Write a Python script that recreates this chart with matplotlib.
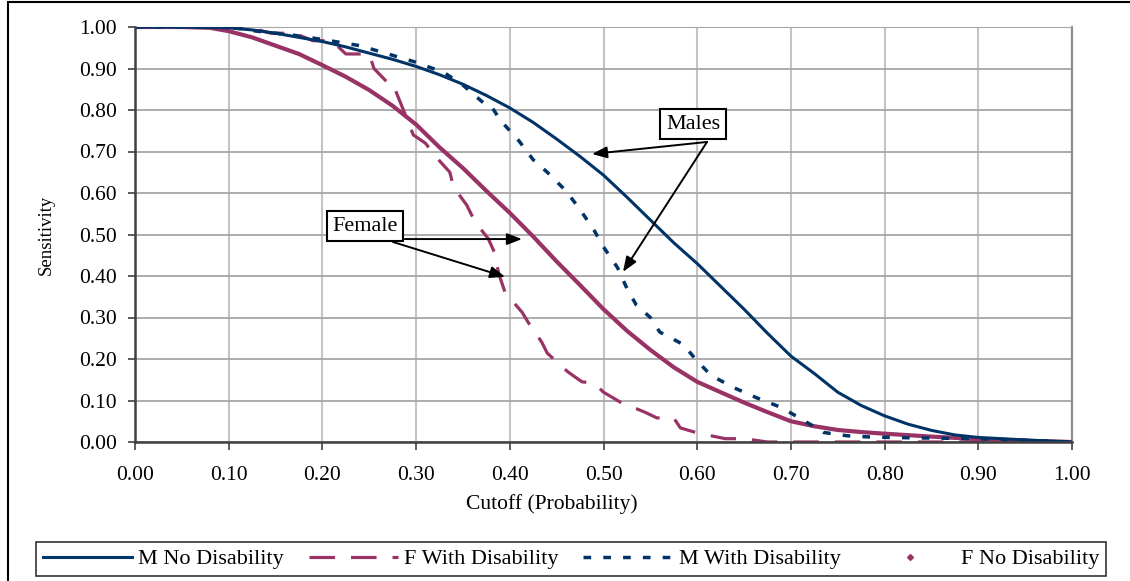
import matplotlib
matplotlib.use("Agg")
import matplotlib.pyplot as plt
from matplotlib.lines import Line2D
from matplotlib.patches import Rectangle

plt.rcParams['font.family'] = ['Liberation Serif', 'DejaVu Serif']

NAVY = '#003366'
PLUM = '#993366'

# M No Disability (solid)
m_no_x = [0.00, 0.05, 0.10, 0.125, 0.15, 0.175, 0.20, 0.225, 0.25, 0.275, 0.30, 0.325,
          0.35, 0.375, 0.40, 0.425, 0.45, 0.475, 0.50, 0.525, 0.55, 0.575, 0.60, 0.625,
          0.65, 0.675, 0.70, 0.725, 0.75, 0.775, 0.80, 0.825, 0.85, 0.875, 0.90, 0.95, 1.00]
m_no_y = [1.00, 1.00, 0.998, 0.993, 0.985, 0.975, 0.965, 0.952, 0.937, 0.922, 0.905, 0.885,
          0.862, 0.835, 0.805, 0.77, 0.73, 0.688, 0.643, 0.59, 0.535, 0.48, 0.43, 0.375,
          0.32, 0.262, 0.207, 0.165, 0.12, 0.088, 0.063, 0.043, 0.028, 0.017, 0.011, 0.005, 0.0]

# F With Disability (long dashes, stepped)
f_with_x = [0.00, 0.12, 0.145, 0.17, 0.19, 0.21, 0.225, 0.25, 0.255, 0.27, 0.275, 0.28,
            0.29, 0.297, 0.31, 0.32, 0.336, 0.34, 0.354, 0.363, 0.377, 0.384, 0.388, 0.395,
            0.413, 0.42, 0.434, 0.44, 0.462, 0.477, 0.49, 0.50, 0.518, 0.544, 0.557, 0.575,
            0.582, 0.60, 0.63, 0.65, 0.675, 1.00]
f_with_y = [1.00, 1.00, 0.985, 0.985, 0.967, 0.967, 0.935, 0.935, 0.90, 0.865, 0.865, 0.836,
            0.78, 0.74, 0.72, 0.69, 0.65, 0.614, 0.571, 0.53, 0.49, 0.455, 0.407, 0.36,
            0.313, 0.287, 0.241, 0.214, 0.169, 0.145, 0.142, 0.12, 0.096, 0.072, 0.058, 0.058,
            0.034, 0.022, 0.008, 0.008, 0.0, 0.0]

# M With Disability (short dashes)
m_with_x = [0.00, 0.05, 0.10, 0.13, 0.17, 0.20, 0.24, 0.27, 0.30, 0.33, 0.35, 0.372,
            0.38, 0.39, 0.41, 0.425, 0.44, 0.46, 0.475, 0.49, 0.50, 0.515, 0.525, 0.535,
            0.55, 0.56, 0.585, 0.60, 0.615, 0.64, 0.665, 0.69, 0.715, 0.735, 0.76, 0.785,
            0.83, 0.90, 0.95, 1.00]
m_with_y = [1.00, 1.00, 1.00, 0.99, 0.98, 0.97, 0.955, 0.935, 0.915, 0.89, 0.86, 0.817,
            0.81, 0.775, 0.725, 0.68, 0.65, 0.605, 0.56, 0.51, 0.47, 0.42, 0.37, 0.33,
            0.30, 0.265, 0.235, 0.195, 0.16, 0.13, 0.105, 0.083, 0.05, 0.023, 0.015, 0.012,
            0.01, 0.008, 0.004, 0.0]

# F No Disability (dense points)
f_no_x = [0.00, 0.05, 0.08, 0.10, 0.125, 0.15, 0.175, 0.20, 0.225, 0.25, 0.275, 0.30,
          0.325, 0.35, 0.375, 0.40, 0.425, 0.45, 0.475, 0.50, 0.525, 0.55, 0.575, 0.60,
          0.625, 0.65, 0.675, 0.70, 0.725, 0.75, 0.775, 0.80, 0.85, 0.90, 0.95, 1.00]
f_no_y = [1.00, 1.00, 0.998, 0.99, 0.975, 0.955, 0.935, 0.908, 0.88, 0.848, 0.81, 0.765,
          0.71, 0.66, 0.605, 0.552, 0.495, 0.435, 0.378, 0.32, 0.268, 0.222, 0.18, 0.145,
          0.12, 0.095, 0.072, 0.05, 0.038, 0.029, 0.024, 0.02, 0.013, 0.007, 0.003, 0.0]

labels = ['M No Disability', 'F With Disability', 'M With Disability', 'F No Disability']
ticks = [i / 10 for i in range(11)]

fig = plt.figure(figsize=(11.3, 5.81), dpi=100)
ax = fig.add_axes([135 / 1130, 1 - 442 / 581, (1072 - 135) / 1130, (442 - 27) / 581])

l_fno, = ax.plot(f_no_x, f_no_y, color=PLUM, lw=3.0, zorder=3)
l_mno, = ax.plot(m_no_x, m_no_y, color=NAVY, lw=2.2, zorder=4)
l_fwith, = ax.plot(f_with_x, f_with_y, color=PLUM, lw=2.3, ls=(0, (8, 5)), zorder=3)
l_mwith, = ax.plot(m_with_x, m_with_y, color=NAVY, lw=2.5, ls=(0, (2.2, 3.5)), zorder=4)

ax.set_xlim(0, 1)
ax.set_ylim(0, 1)
ax.set_xticks(ticks)
ax.set_yticks(ticks)
ax.set_xticklabels(['%.2f' % t for t in ticks], fontsize=15.5)
ax.set_yticklabels(['%.2f' % t for t in ticks], fontsize=15.5)
ax.tick_params(axis='x', direction='out', length=6, width=1.2, pad=11, color='#404040')
ax.tick_params(axis='y', direction='out', length=5, width=1.2, pad=8, color='#404040')

ax.xaxis.grid(True, color='#c4c4c4', lw=1.5)
ax.yaxis.grid(True, color='#a6a6a6', lw=1.3)
ax.set_axisbelow(True)
for s in ['left', 'bottom']:
    ax.spines[s].set_color('#404040')
    ax.spines[s].set_linewidth(1.8)
    ax.spines[s].set_zorder(5)
ax.spines['top'].set_color('#a6a6a6')
ax.spines['right'].set_color('#8c8c8c')
ax.spines['right'].set_linewidth(1.6)

ax.set_xlabel('Cutoff (Probability)', fontsize=15.5)
ax.xaxis.set_label_coords((552 - 135) / 937, -0.125)
ax.set_ylabel('Sensitivity', fontsize=13.5)
ax.yaxis.set_label_coords(-0.086, 0.5)

# annotations
box = dict(boxstyle='square,pad=0.25', fc='white', ec='black', lw=1.5)
arrow = dict(arrowstyle='-|>,head_length=0.9,head_width=0.35', color='black',
             lw=1.4, shrinkA=0, shrinkB=0)
ax.text(0.5955, 0.766, 'Males', fontsize=16, ha='center', va='center', bbox=box, zorder=6)
ax.annotate('', xy=(0.4877, 0.694), xytext=(0.6105, 0.723), arrowprops=arrow, zorder=6)
ax.annotate('', xy=(0.5208, 0.41), xytext=(0.6105, 0.723), arrowprops=arrow, zorder=6)
ax.text(0.2455, 0.52, 'Female', fontsize=16, ha='center', va='center', bbox=box, zorder=6)
ax.annotate('', xy=(0.413, 0.489), xytext=(0.288, 0.489), arrowprops=arrow, zorder=6)
ax.annotate('', xy=(0.395, 0.398), xytext=(0.2753, 0.482), arrowprops=arrow, zorder=6)

# legend
dot = Line2D([], [], color=PLUM, marker='D', markersize=3, ls='none')
leg = fig.legend([l_mno, l_fwith, l_mwith, dot], labels, loc='lower left',
                 bbox_to_anchor=(36 / 1130, 1 - 576 / 581, (1106 - 36) / 1130, (576 - 537) / 581),
                 mode='expand', ncol=4, fancybox=False, edgecolor='black', fontsize=16,
                 handlelength=4, handletextpad=0.3, borderaxespad=0, borderpad=0.3)
leg.get_frame().set_linewidth(1.2)

# outer chart border
fig.patches.append(Rectangle((8 / 1130, -0.05), 1.2, 1.05 - 2 / 581, transform=fig.transFigure,
                             fill=False, ec='black', lw=1.5))

fig.savefig('out.png', dpi=100)
